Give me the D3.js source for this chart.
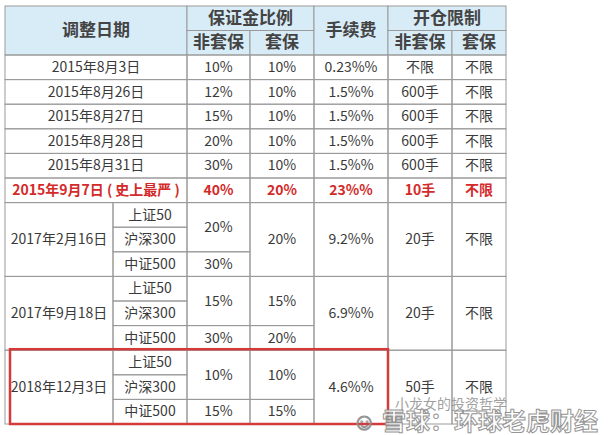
<!DOCTYPE html>
<html><head><meta charset="utf-8">
<script src="https://cdn.jsdelivr.net/npm/d3@7"></script>
<style>body{margin:0;background:#fff}svg{display:block}</style>
</head><body>
<svg id="t" width="615" height="435"></svg>
<script>
// simple rows (one unit high each)
const simpleDates = ["2015年8月3日", "2015年8月26日", "2015年8月27日", "2015年8月28日", "2015年8月31日", "2015年9月7日 ( 史上最严 )"];
const simpleNonHedge = ["10%", "12%", "15%", "20%", "30%", "40%"];
const simpleHedge = ["10%", "10%", "10%", "10%", "10%", "20%"];
const simpleFee = ["0.23%%", "1.5%%", "1.5%%", "1.5%%", "1.5%%", "23%%"];
const simpleLimitNon = ["不限", "600手", "600手", "600手", "600手", "10手"];
const simpleLimitHedge = ["不限", "不限", "不限", "不限", "不限", "不限"];
// grouped rows (three sub rows each)
const groupDates = ["2017年2月16日", "2017年9月18日", "2018年12月3日"];
const indices = ["上证50", "沪深300", "中证500"];
const groupNonHedge = [["20%", "30%"], ["15%", "30%"], ["10%", "15%"]];
const groupHedge = [["20%"], ["15%", "20%"], ["10%", "15%"]];
const groupFee = ["9.2%%", "6.9%%", "4.6%%"];
const groupLimitNon = ["20手", "20手", "50手"];
const groupLimitHedge = ["不限", "不限", "不限"];

const colX = [5, 113, 187, 250, 314, 388, 452, 506]; // date | index | 非套保 | 套保 | 手续费 | 非套保 | 套保
const svg = d3.select("#t");
const font = "'Noto Sans CJK SC', 'Noto Sans', sans-serif";
const y = d3.scaleLinear().domain([0, 15]).range([55, 424]);
const hy = d3.scaleLinear().domain([0, 2]).range([6, 55]);
const line = "#9a9a9a";

function cell(x0, x1, u0, u1, txt, opt = {}) {
  const sc = opt.scale || y;
  svg.append("rect").attr("x", x0).attr("y", sc(u0)).attr("width", x1 - x0).attr("height", sc(u1) - sc(u0))
    .attr("fill", opt.fill || "none").attr("stroke", line).attr("stroke-width", 1);
  svg.append("text").attr("x", (x0 + x1) / 2).attr("y", (sc(u0) + sc(u1)) / 2 + 1)
    .attr("text-anchor", "middle").attr("dominant-baseline", "middle")
    .attr("font-family", font).attr("font-size", opt.size || 14)
    .attr("font-weight", opt.bold ? "bold" : "normal")
    .attr("fill", opt.color || "#3a3a3a").text(txt);
}

// header
const hf = "#d8ecf7";
const ho = { scale: hy, fill: hf, bold: true, size: 17, color: "#444" };
cell(colX[0], colX[2], 0, 2, "调整日期", ho);
cell(colX[2], colX[4], 0, 1, "保证金比例", ho);
cell(colX[2], colX[3], 1, 2, "非套保", ho);
cell(colX[3], colX[4], 1, 2, "套保", ho);
cell(colX[4], colX[5], 0, 2, "手续费", ho);
cell(colX[5], colX[7], 0, 1, "开仓限制", ho);
cell(colX[5], colX[6], 1, 2, "非套保", ho);
cell(colX[6], colX[7], 1, 2, "套保", ho);

simpleDates.forEach((d, i) => {
  const red = i === 5;
  const o = red ? { bold: true, color: "#d42a2a", size: 14 } : {};
  cell(colX[0], colX[2], i, i + 1, d, o);
  cell(colX[2], colX[3], i, i + 1, simpleNonHedge[i], o);
  cell(colX[3], colX[4], i, i + 1, simpleHedge[i], o);
  cell(colX[4], colX[5], i, i + 1, simpleFee[i], o);
  cell(colX[5], colX[6], i, i + 1, simpleLimitNon[i], o);
  cell(colX[6], colX[7], i, i + 1, simpleLimitHedge[i], o);
});

groupDates.forEach((d, g) => {
  const u = 6 + g * 3;
  cell(colX[0], colX[1], u, u + 3, d);
  indices.forEach((ix, k) => cell(colX[1], colX[2], u + k, u + k + 1, ix));
  const spans = (vals, x0, x1) => {
    if (vals.length === 1) cell(x0, x1, u, u + 3, vals[0]);
    else { cell(x0, x1, u, u + 2, vals[0]); cell(x0, x1, u + 2, u + 3, vals[1]); }
  };
  spans(groupNonHedge[g], colX[2], colX[3]);
  spans(groupHedge[g], colX[3], colX[4]);
  cell(colX[4], colX[5], u, u + 3, groupFee[g]);
  cell(colX[5], colX[6], u, u + 3, groupLimitNon[g]);
  cell(colX[6], colX[7], u, u + 3, groupLimitHedge[g]);
});

// red highlight box around last group
svg.append("rect").attr("x", 10).attr("y", y(12) - 1).attr("width", colX[5] - 10).attr("height", y(15) - y(12) + 1)
  .attr("fill", "none").attr("stroke", "#d43a3a").attr("stroke-width", 2.5);

// watermark
svg.append("text").attr("x", 395).attr("y", 409).attr("font-family", font).attr("font-size", 14)
  .attr("fill", "#8a8a8a").attr("opacity", 0.8).text("小龙女的投资哲学");
svg.append("text").attr("x", 352).attr("y", 430).attr("font-family", font).attr("font-size", 24).attr("font-weight", "bold")
  .attr("fill", "#fff").attr("stroke", "#8a8a8a").attr("stroke-width", 1).attr("opacity", 0.9).text("☺ 雪球：环球老虎财经");
</script>
</body></html>
